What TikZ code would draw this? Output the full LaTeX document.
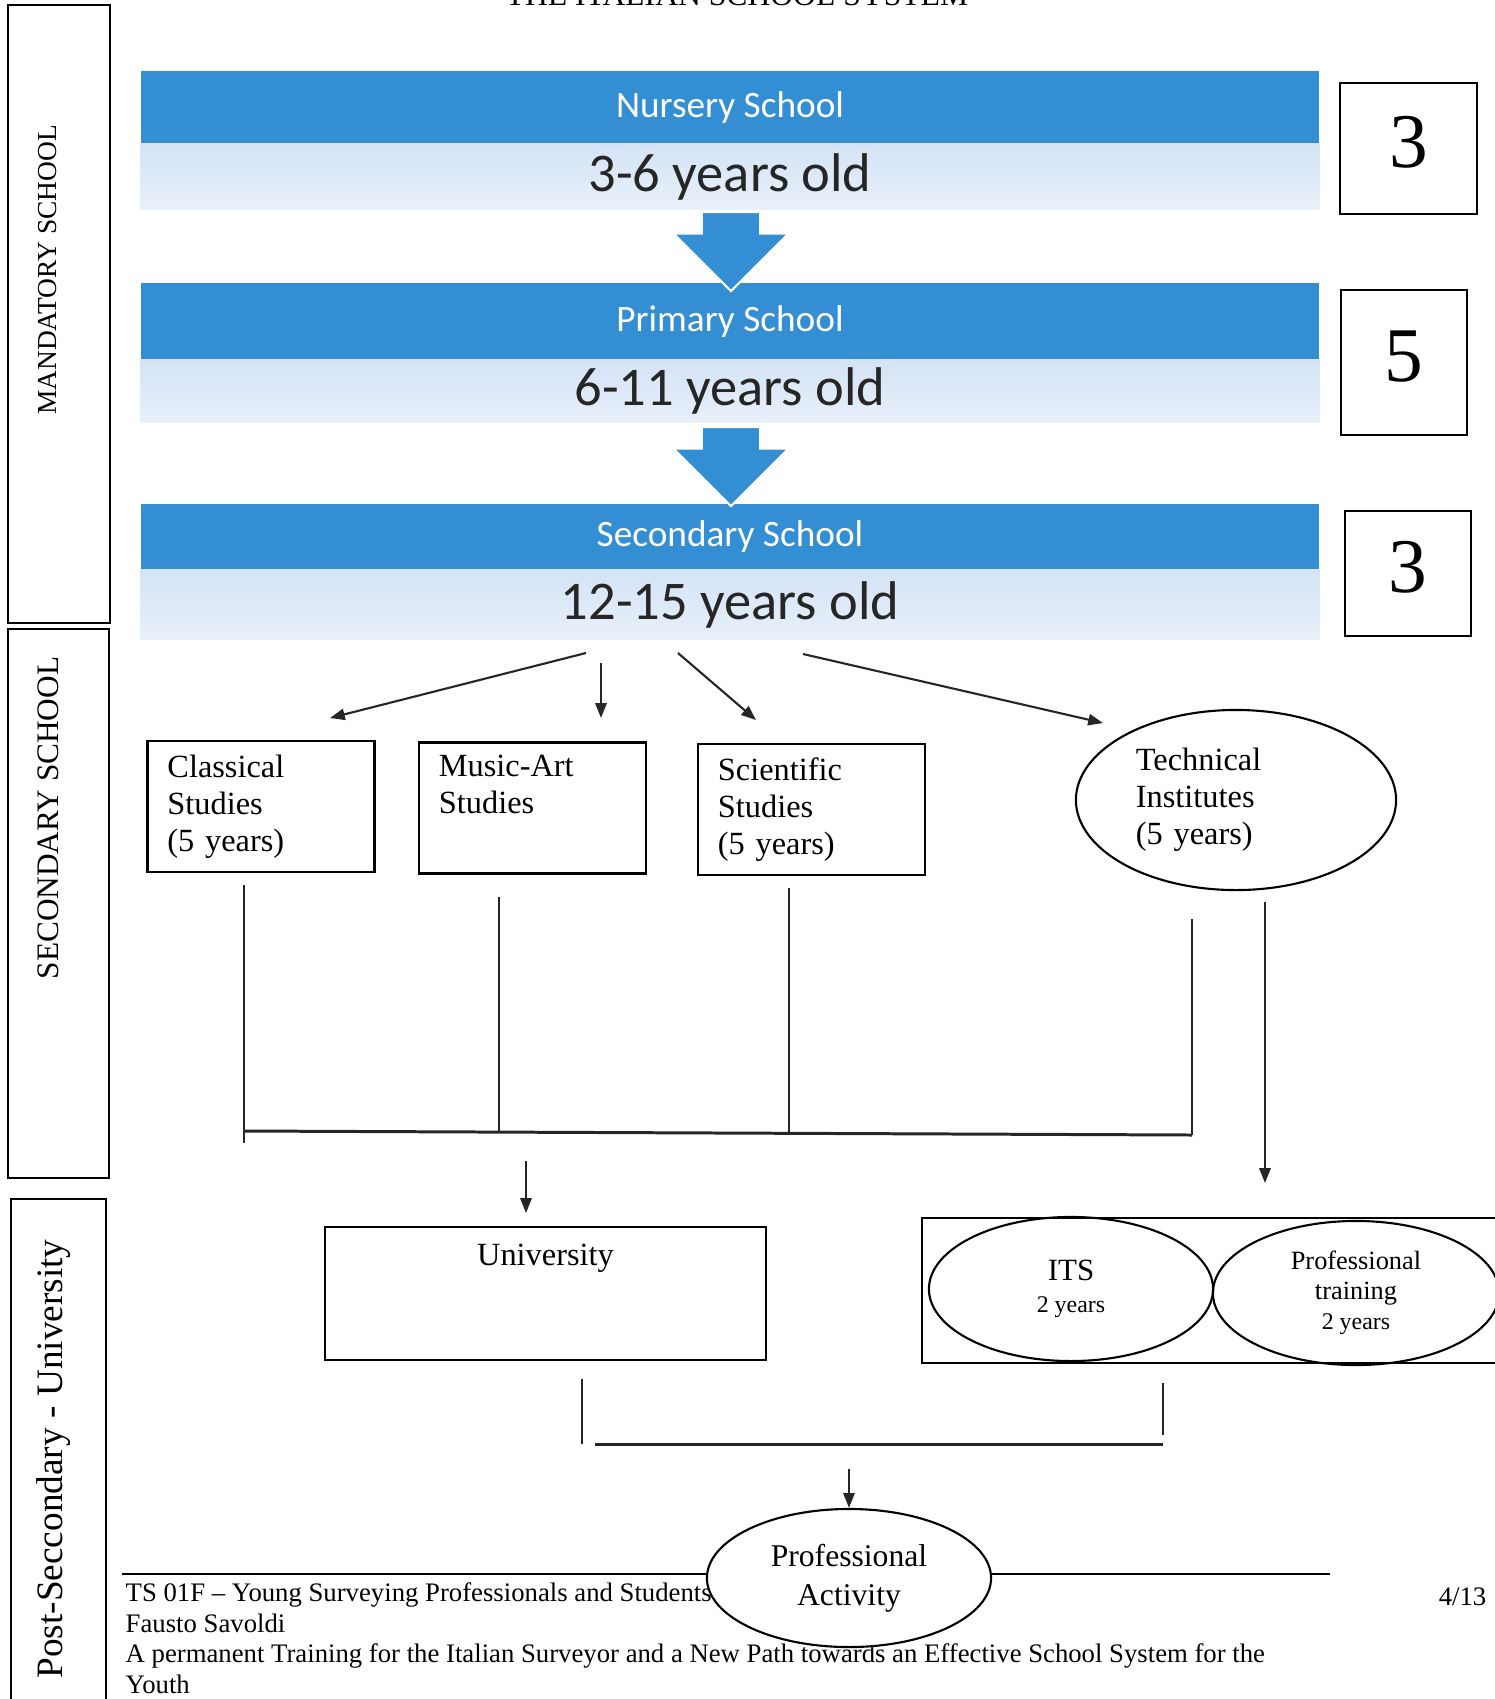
\documentclass[tikz,border=0pt]{standalone}
\usepackage{fontspec}
\setmainfont{Liberation Serif}
\newfontfamily\bannerfont{Carlito}
\usepackage{tikz}
\usetikzlibrary{shapes.geometric,shapes.arrows,arrows.meta}

\definecolor{bandblue}{RGB}{52,142,212}
\definecolor{agetop}{RGB}{212,227,246}
\definecolor{agebot}{RGB}{232,240,250}

\begin{document}
\begin{tikzpicture}[x=0.01cm, y=-0.01cm, >={Triangle[length=4.2pt,width=3.2pt]},
  band/.style={fill=bandblue, minimum width=11.78cm, inner sep=0, text=white,
    font=\bannerfont\fontsize{10.6}{12}\selectfont},
  ageband/.style={top color=agetop, bottom color=agebot, minimum width=11.78cm,
    inner sep=0, text=black!85, font=\bannerfont\fontsize{15.5}{18}\selectfont},
  downarrow/.style={single arrow, shape border rotate=270, fill=bandblue, draw=white,
    line width=0.6pt, minimum height=0.79cm, minimum width=1.13cm,
    single arrow head extend=0.285cm, inner xsep=0.28cm, inner ysep=0, anchor=tail},
  yearbox/.style={draw, line width=0.7pt, inner sep=0, text height=0.55cm, text depth=0.18cm,
    font=\fontsize{22}{24}\selectfont},
  sidebox/.style={draw, line width=0.6pt, inner sep=0},
  sidelabel/.style={rotate=90, inner sep=0},
  studybox/.style={draw, line width=0.75pt, minimum width=2.27cm, minimum height=1.31cm,
    inner xsep=0.2cm, inner ysep=0, text width=1.87cm, align=left,
    font=\fontsize{9.2}{10.5}\selectfont},
  oval/.style={draw, ellipse, line width=0.6pt, inner sep=0},
  link/.style={line width=0.6pt, black!85},
  bar/.style={line width=0.85pt, black!85}]
\useasboundingbox (0,0) rectangle (1495,1699);
\clip (0,0) rectangle (1495,1699);

% title (cut off at the top)
\node[anchor=base, inner sep=0, font=\fontsize{9}{10}\selectfont] (title) at (737,5) {THE ITALIAN SCHOOL SYSTEM};

% left column
\node[sidebox, minimum width=1.02cm, minimum height=6.18cm] (mandbox) at (59,314) {};
\node[sidelabel, font=\fontsize{7.8}{9}\selectfont] (mandlabel) at (48,270) {MANDATORY SCHOOL};
\node[sidebox, minimum width=1.01cm, minimum height=5.49cm] (secbox) at (58.5,903.5) {};
\node[sidelabel, font=\fontsize{8.9}{10}\selectfont] (seclabel) at (48,818) {SECONDARY SCHOOL};
\node[sidebox, minimum width=0.95cm, minimum height=5.2cm] (postbox) at (58.5,1459) {};
\node[sidelabel, font=\fontsize{10.6}{12}\selectfont] (postlabel) at (54,1459) {Post-Seccondary - University};

% mandatory school bands
\node[band, minimum height=0.73cm] (nursery) at (730,107.5) {Nursery School};
\node[ageband, minimum height=0.65cm] (nurseryage) at (730,176.5) {3-6 years old};
\node[band, minimum height=0.77cm] (primary) at (730,321.5) {Primary School};
\node[ageband, minimum height=0.62cm] (primaryage) at (730,391) {6-11 years old};
\node[band, minimum height=0.66cm] (secondary) at (730,537) {Secondary School};
\node[ageband, minimum height=0.69cm] (secondaryage) at (730,604.5) {12-15 years old};
\node[downarrow] (flow1) at (731,211) {};
\node[downarrow] (flow2) at (731,426) {};

% years
\node[yearbox, minimum width=1.37cm, minimum height=1.31cm] (yr1) at (1408.5,148.5) {3};
\node[yearbox, minimum width=1.26cm, minimum height=1.45cm] (yr2) at (1404,362.5) {5};
\node[yearbox, minimum width=1.26cm, minimum height=1.25cm] (yr3) at (1408,573.5) {3};

% secondary school branches
\node[studybox] (classical) at (261,806.5) {Classical\\Studies\\(5 years)};
\node[studybox] (musicart) at (532.5,808) {Music-Art\\Studies\\\strut};
\node[studybox] (scientific) at (811.5,809.5) {Scientific\\Studies\\(5 years)};
\node[oval, minimum width=3.2cm, minimum height=1.8cm, text width=2.0cm, align=left,
  font=\fontsize{9.2}{10.5}\selectfont] (technical) at (1236,800) {Technical\\Institutes\\(5 years)};

\coordinate (fork1) at (586,653);
\coordinate (fork2) at (601,663);
\coordinate (fork3) at (678,653);
\coordinate (fork4) at (803,654);
\coordinate (into1) at (330,718);
\coordinate (into2) at (601,718);
\coordinate (into3) at (756,720);
\coordinate (into4) at (1103,723);
\draw[link,->] (fork1) -- (into1);
\draw[link,->] (fork2) -- (into2);
\draw[link,->] (fork3) -- (into3);
\draw[link,->] (fork4) -- (into4);

% joining lines
\coordinate (clsfoot) at (244,885);
\coordinate (clsend) at (244,1143);
\coordinate (musfoot) at (499,897);
\coordinate (musend) at (499,1133);
\coordinate (scifoot) at (789,888);
\coordinate (sciend) at (789,1133);
\coordinate (tecfoot) at (1192,919);
\coordinate (tecend) at (1192,1135);
\coordinate (barleft) at (244,1131);
\draw[link] (clsfoot) -- (clsend);
\draw[link] (musfoot) -- (musend);
\draw[link] (scifoot) -- (sciend);
\draw[link] (tecfoot) -- (tecend);
\draw[bar] (barleft) -- (tecend);

\coordinate (uniout) at (526,1161);
\coordinate (uniin) at (526,1213);
\draw[link,->] (uniout) -- (uniin);
\coordinate (tecout) at (1265,902);
\coordinate (trainin) at (1265,1183);
\draw[link,->] (tecout) -- (trainin);

% post-secondary
\node[draw, line width=0.7pt, minimum width=4.41cm, minimum height=1.33cm, inner sep=0,
  text height=0.25cm, text depth=0.82cm, font=\fontsize{9.2}{10.5}\selectfont] (university) at (545.5,1293.5) {University};
\node[draw, line width=0.7pt, minimum width=5.9cm, minimum height=1.45cm, inner sep=0] (training) at (1217,1290.5) {};
\node[oval, minimum width=2.84cm, minimum height=1.44cm, align=center,
  font=\fontsize{6.8}{9.2}\selectfont] (its) at (1071,1289) {{\fontsize{8.8}{9.2}\selectfont ITS}\\2 years};
\node[oval, minimum width=2.86cm, minimum height=1.44cm, align=center,
  font=\fontsize{7.5}{8.5}\selectfont] (protrain) at (1356,1293) {Professional\\training\\{\fontsize{6.8}{8.5}\selectfont 2 years}};

\coordinate (unifoot) at (582,1379);
\coordinate (unifootend) at (582,1444);
\coordinate (trainfoot) at (1163,1383);
\coordinate (trainfootend) at (1163,1435);
\coordinate (mergeleft) at (595,1444);
\coordinate (mergeright) at (1163,1444);
\draw[link] (unifoot) -- (unifootend);
\draw[link] (trainfoot) -- (trainfootend);
\draw[bar] (mergeleft) -- (mergeright);

% page footer
\coordinate (ruleleft) at (122,1574);
\coordinate (ruleright) at (1330,1574);
\draw[line width=0.5pt] (ruleleft) -- (ruleright);
\node[anchor=north west, inner sep=0, align=left, font=\fontsize{7.6}{8.7}\selectfont] (footer) at (125,1582)
  {TS 01F – Young Surveying Professionals and Students\\Fausto Savoldi\\A permanent Training for the Italian Surveyor and a New Path towards an Effective School System for the\\Youth};
\node[anchor=base east, inner sep=0, font=\fontsize{7.6}{8.7}\selectfont] (pageno) at (1487,1605) {4/13};

\node[oval, fill=white, minimum width=2.84cm, minimum height=1.38cm, align=center,
  font=\fontsize{9}{11}\selectfont] (activity) at (849,1578) {Professional\\Activity};
\coordinate (actout) at (849,1469);
\draw[link,->] (actout) -- (activity.north);
\end{tikzpicture}
\end{document}
